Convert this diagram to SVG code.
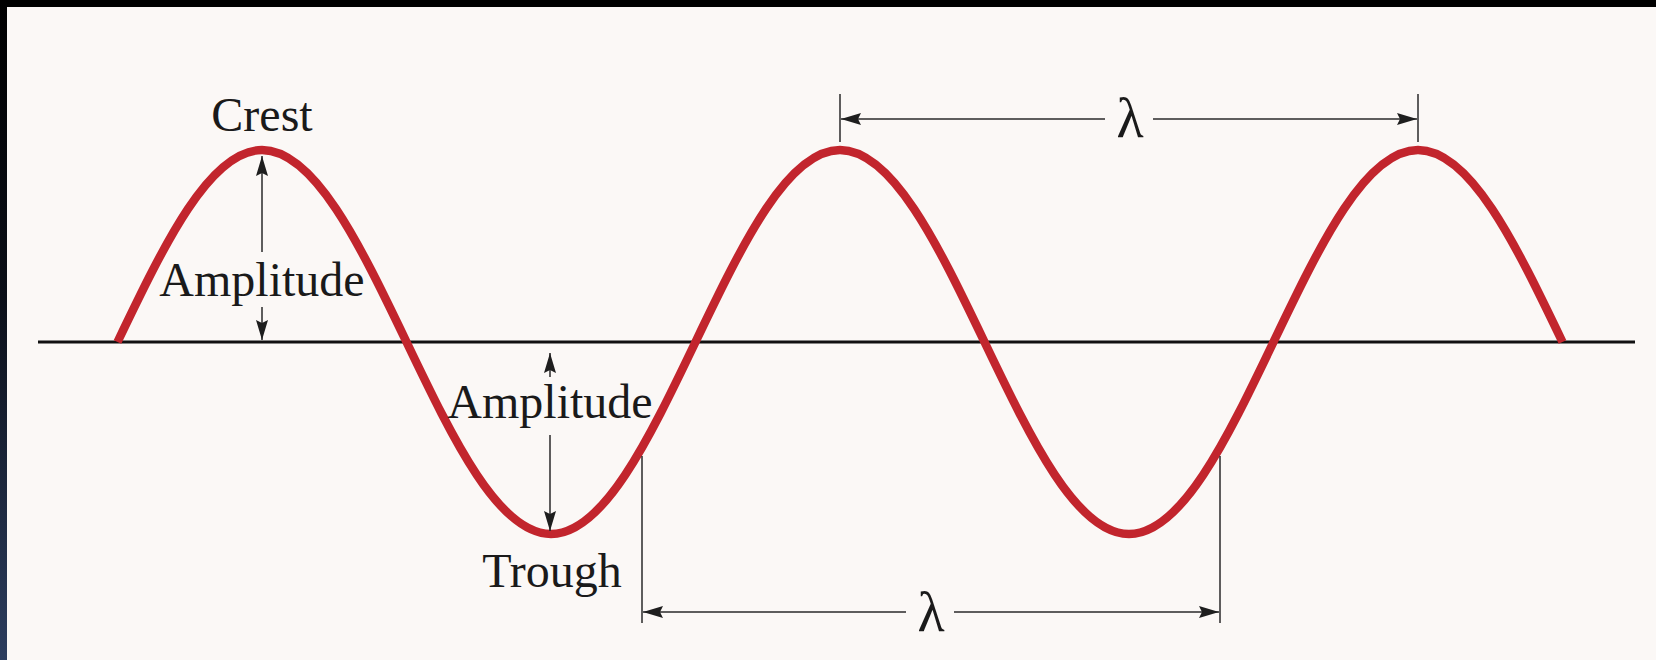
<svg xmlns="http://www.w3.org/2000/svg" width="1656" height="660" viewBox="0 0 1656 660">
  <defs>
    <linearGradient id="edge" x1="0" y1="0" x2="0" y2="1">
      <stop offset="0" stop-color="#000000"/>
      <stop offset="0.45" stop-color="#0b0f18"/>
      <stop offset="1" stop-color="#2c3d5e"/>
    </linearGradient>
    <marker id="ah" viewBox="0 0 20 12" refX="20" refY="6" markerWidth="20" markerHeight="12" markerUnits="userSpaceOnUse" orient="auto">
      <path d="M0,0 L20,6 L0,12 L3,6 Z" fill="#1e1e1e"/>
    </marker>
    <style>
      .lbl { font-family: "Liberation Serif", "Times New Roman", serif; font-size: 48px; fill: #1a1a1a; text-anchor: middle; }
      .lam { font-family: "Liberation Serif", "Times New Roman", serif; font-size: 56px; fill: #1a1a1a; text-anchor: middle; }
      .dim { stroke: #2a2a2a; stroke-width: 1.5; fill: none; }
      .arr { stroke: #2a2a2a; stroke-width: 1.5; fill: none; marker-end: url(#ah); }
    </style>
  </defs>

  <rect x="0" y="0" width="1656" height="660" fill="#fbf8f6"/>
  <rect x="0" y="0" width="1656" height="7" fill="#000000"/>
  <rect x="0" y="0" width="7" height="660" fill="url(#edge)"/>

  <g id="axis">
    <line x1="38" y1="342" x2="1635" y2="342" stroke="#111111" stroke-width="3.2"/>
  </g>

  <g id="wave">
    <path d="M117.5,342 C164.63,243.64 209.71,150 262,150 C314.29,150 359.37,243.64 406.5,342 C453.63,440.36 498.71,534 551,534 C603.29,534 648.37,440.36 695.5,342 C742.63,243.64 787.71,150 840,150 C892.29,150 937.37,243.64 984.5,342 C1031.63,440.36 1076.71,534 1129,534 C1181.29,534 1226.37,440.36 1273.5,342 C1320.63,243.64 1365.71,150 1418,150 C1470.29,150 1515.37,243.64 1562.5,342" fill="none" stroke="#c2252d" stroke-width="8.5"/>
  </g>

  <g id="crest-label">
    <text class="lbl" x="262" y="131">Crest</text>
  </g>
  <g id="amplitude-upper">
    <text class="lbl" x="262" y="296">Amplitude</text>
  </g>
  <g id="amplitude-lower">
    <text class="lbl" x="550" y="418">Amplitude</text>
  </g>
  <g id="trough-label">
    <text class="lbl" x="552" y="587">Trough</text>
  </g>
  <g id="lambda-upper">
    <text class="lam" x="1130" y="137">λ</text>
  </g>
  <g id="lambda-lower">
    <text class="lam" x="931" y="631">λ</text>
  </g>

  <g id="connectors">
    <line class="arr" x1="262" y1="252" x2="262" y2="156"/>
    <line class="arr" x1="262" y1="307" x2="262" y2="340"/>
    <line class="arr" x1="550" y1="377" x2="550" y2="353"/>
    <line class="arr" x1="550" y1="435" x2="550" y2="531"/>

    <line class="dim" x1="840" y1="94" x2="840" y2="142"/>
    <line class="dim" x1="1418" y1="94" x2="1418" y2="142"/>
    <line class="arr" x1="1105" y1="119" x2="841" y2="119"/>
    <line class="arr" x1="1153" y1="119" x2="1417" y2="119"/>

    <line class="dim" x1="642" y1="456" x2="642" y2="623"/>
    <line class="dim" x1="1220" y1="456" x2="1220" y2="623"/>
    <line class="arr" x1="906" y1="612" x2="643" y2="612"/>
    <line class="arr" x1="954" y1="612" x2="1219" y2="612"/>
  </g>
</svg>
